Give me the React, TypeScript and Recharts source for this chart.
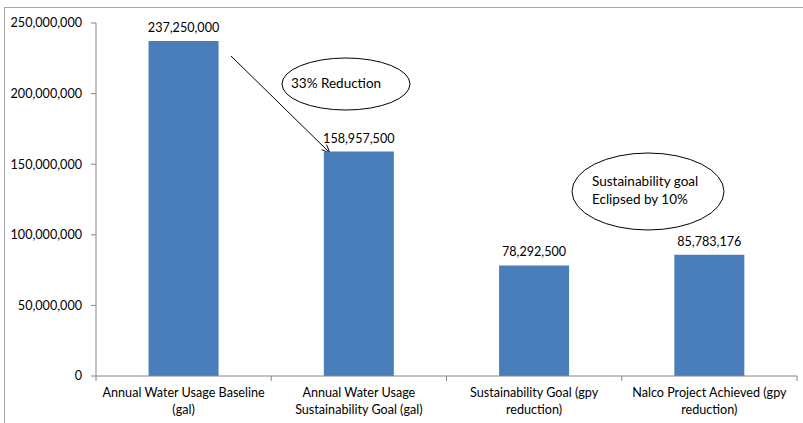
import React from 'react';
import { BarChart, Bar, XAxis, YAxis, LabelList, Customized } from 'recharts';

const categories = [
  'Annual Water Usage Baseline\n(gal)',
  'Annual Water Usage\nSustainability Goal (gal)',
  'Sustainability Goal (gpy\nreduction)',
  'Nalco Project Achieved (gpy\nreduction)',
];
const values = [237250000, 158957500, 78292500, 85783176];
const yTicks = [0, 50000000, 100000000, 150000000, 200000000, 250000000];

const data = categories.map((c, i) => ({ name: c, value: values[i] }));

const FONT = 'Lato, "Open Sans", sans-serif';
const AXIS = '#868686';
const fmt = (v: number) => v.toLocaleString('en-US');

const XTick = (props: any) => {
  const { x, y, payload, index } = props;
  const half = payload && payload.offset ? payload.offset : 87.6;
  const lines = String(payload.value).split('\n');
  return (
    <g>
      <line x1={x - half} x2={x - half} y1={y - 8} y2={y - 3} stroke={AXIS} />
      {index === categories.length - 1 && (
        <line x1={x + half} x2={x + half} y1={y - 8} y2={y - 3} stroke={AXIS} />
      )}
      {lines.map((l, i) => (
        <text key={i} x={x} y={y + 13 + i * 17} textAnchor="middle" fontSize={12.6} fill="#000" fontFamily={FONT}>
          {l}
        </text>
      ))}
    </g>
  );
};

const Arrow = ({ x1, y1, x2, y2 }: { x1: number; y1: number; x2: number; y2: number }) => {
  const a = Math.atan2(y2 - y1, x2 - x1);
  const L = 9;
  const w = 0.4;
  const p1 = [x2 - L * Math.cos(a - w), y2 - L * Math.sin(a - w)];
  const p2 = [x2 - L * Math.cos(a + w), y2 - L * Math.sin(a + w)];
  return (
    <g stroke="#000" strokeWidth={1} fill="none">
      <line x1={x1} y1={y1} x2={x2} y2={y2} />
      <path d={`M${p1[0]},${p1[1]} L${x2},${y2} L${p2[0]},${p2[1]}`} />
    </g>
  );
};

const Annotations = () => (
  <g fontFamily={FONT}>
    <Arrow x1={231} y1={56} x2={330} y2={153} />
    <ellipse cx={346} cy={84} rx={64} ry={26} fill="#fff" stroke="#000" strokeWidth={1} />
    <text x={291} y={88} fontSize={13.5} fill="#000">33% Reduction</text>
    <ellipse cx={648} cy={191.5} rx={76} ry={38.5} fill="#fff" stroke="#000" strokeWidth={1} />
    <text x={592} y={185.5} fontSize={13.5} fill="#000">Sustainability goal</text>
    <text x={592} y={203.5} fontSize={13.5} fill="#000">Eclipsed by 10%</text>
  </g>
);

export default function App() {
  return (
    <div style={{ position: 'absolute', left: 0, top: 0, width: 803, height: 423, background: '#fff' }}>
      <div
        style={{
          position: 'absolute',
          left: 4,
          top: 7,
          width: 799,
          height: 416,
          borderLeft: '1.5px solid #a6a6a6',
          borderTop: '1.5px solid #a6a6a6',
        }}
      />
      <div style={{ position: 'absolute', left: 0, top: 0 }}>
        <BarChart
          width={803}
          height={423}
          data={data}
          margin={{ top: 23, right: 6, bottom: 0, left: 0 }}
          barCategoryGap="30%"
        >
          <XAxis
            dataKey="name"
            tickLine={false}
            axisLine={{ stroke: AXIS }}
            tick={<XTick />}
            interval={0}
            height={47}
          />
          <YAxis
            width={96}
            domain={[0, 250000000]}
            ticks={yTicks}
            tickFormatter={fmt}
            tickSize={5}
            tickMargin={9}
            axisLine={{ stroke: AXIS }}
            tickLine={{ stroke: AXIS }}
            tick={{ fontSize: 12.6, fill: '#000', fontFamily: FONT }}
            interval={0}
          />
          <Bar dataKey="value" fill="#4a7ebb" isAnimationActive={false}>
            <LabelList
              dataKey="value"
              position="top"
              offset={9}
              formatter={(v: any) => fmt(Number(v))}
              style={{ fontSize: 12.6, fill: '#000', fontFamily: FONT }}
            />
          </Bar>
          <Customized component={Annotations} />
        </BarChart>
      </div>
    </div>
  );
}
